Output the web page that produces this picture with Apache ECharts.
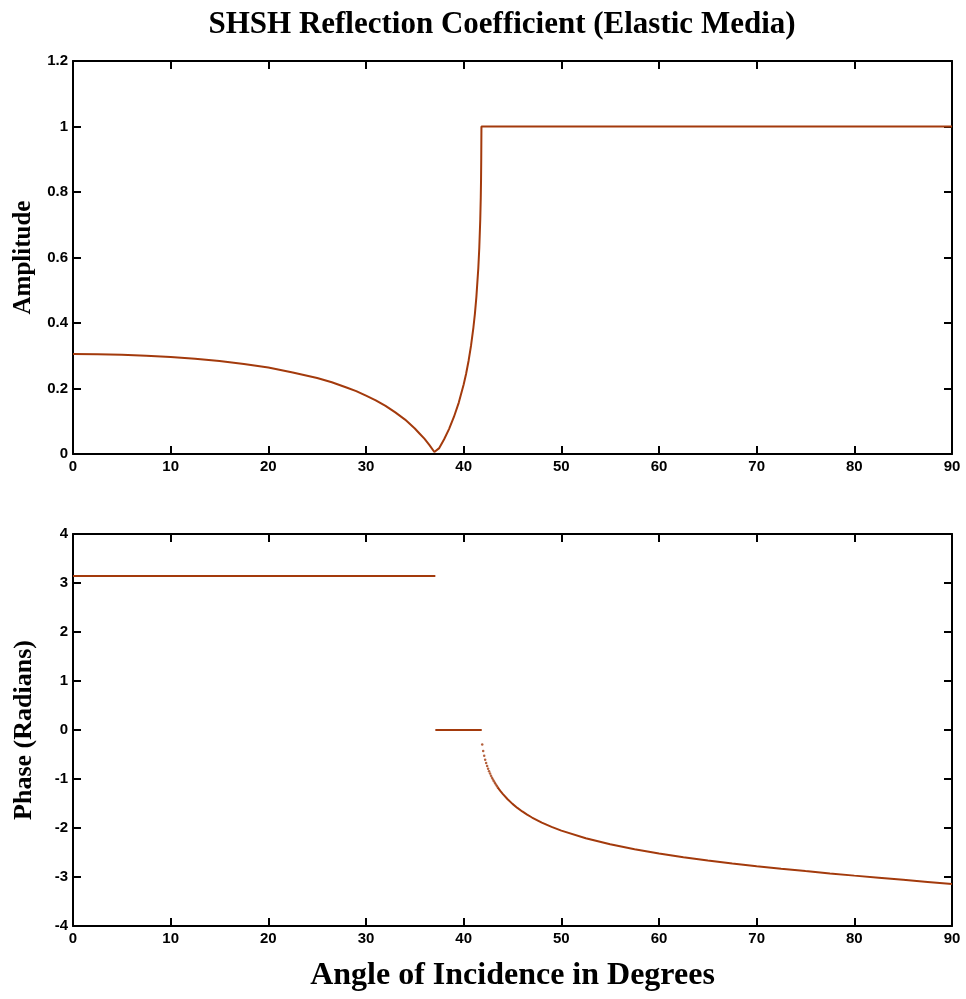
<!DOCTYPE html>
<html>
<head>
<meta charset="utf-8">
<script src="https://cdn.jsdelivr.net/npm/echarts@6/dist/echarts.min.js"></script>
<style>
html,body{margin:0;padding:0;background:#fff;}
#chart{width:966px;height:999px;}
</style>
</head>
<body>
<div id="chart"></div>
<script>
// ---- data ----
const xTicks = [0, 10, 20, 30, 40, 50, 60, 70, 80, 90];

const ampAngles = [0, 2.5, 5, 7.5, 10, 12.5, 15, 17.5, 20, 22.5, 25, 26.5, 28, 29, 30, 31, 32, 33, 34, 35, 35.5, 36, 36.5, 37, 37.1,
  37.5, 38, 38.5, 39, 39.5, 40, 40.25, 40.5, 40.75, 41, 41.15, 41.3, 41.5, 41.6, 41.7, 41.75, 41.78, 41.8, 41.82, 50, 60, 70, 80, 90];
const ampValues = [0.305, 0.3045, 0.303, 0.300, 0.296, 0.291, 0.284, 0.275, 0.264, 0.249, 0.232, 0.219, 0.203, 0.192, 0.178, 0.164, 0.147, 0.127, 0.105, 0.078, 0.062, 0.046, 0.027, 0.006, 0.0,
  0.018, 0.045, 0.076, 0.113, 0.157, 0.212, 0.245, 0.284, 0.330, 0.387, 0.428, 0.479, 0.568, 0.630, 0.717, 0.782, 0.840, 0.903, 1.0, 1.0, 1.0, 1.0, 1.0, 1.0];

const phaseHighAngles = [0, 37.1];
const phaseHighValues = [3.1416, 3.1416];

const phaseZeroAngles = [37.1, 41.85];
const phaseZeroValues = [0, 0];

const phaseDotAngles = [41.9, 42.0, 42.1, 42.2, 42.3, 42.4, 42.5, 42.6, 42.7, 42.8, 42.9, 43.0, 43.1, 43.2, 43.3, 43.4, 43.5];
const phaseDotValues = [-0.296, -0.428, -0.526, -0.607, -0.675, -0.737, -0.793, -0.843, -0.890, -0.933, -0.974, -1.011, -1.047, -1.082, -1.114, -1.145, -1.175];

const phaseTailAngles = [43.5, 43.75, 44, 44.5, 45, 45.5, 46, 46.5, 47, 48, 49, 50, 52.5, 55, 57.5, 60, 62.5, 65, 67.5, 70, 72.5, 75, 77.5, 80, 82.5, 85, 87.5, 90];
const phaseTailValues = [-1.175, -1.243, -1.305, -1.414, -1.508, -1.590, -1.662, -1.727, -1.786, -1.890, -1.977, -2.054, -2.210, -2.333, -2.434, -2.520, -2.595, -2.662, -2.723, -2.779, -2.831, -2.880, -2.927, -2.972, -3.015, -3.058, -3.100, -3.1416];

// ---- chart ----
const zip = (a, b) => a.map((v, i) => [v, b[i]]);
const lineColor = '#A33A0C';
const serif = 'Liberation Serif';
const sans = 'Liberation Sans';

function axisBase(extra) {
  return Object.assign({
    type: 'value',
    axisLine: { show: true, onZero: false, lineStyle: { color: '#000', width: 2 } },
    axisTick: { show: true, inside: true, length: 8, lineStyle: { color: '#000', width: 2 } },
    splitLine: { show: false },
    axisLabel: { color: '#000', fontFamily: sans, fontWeight: 'bold', fontSize: 15, margin: 5 }
  }, extra);
}

const chart = echarts.init(document.getElementById('chart'), null, { renderer: 'canvas' });
const option = {
  animation: false,
  backgroundColor: '#fff',
  title: {
    text: 'SHSH Reflection Coefficient (Elastic Media)',
    left: 497, top: 4, textAlign: 'center',
    textStyle: { fontFamily: serif, fontWeight: 'bold', fontSize: 31, color: '#000' }
  },
  grid: [
    { left: 73, top: 61, width: 879, height: 393 },
    { left: 73, top: 534, width: 879, height: 392 }
  ],
  xAxis: [
    axisBase({ gridIndex: 0, position: 'bottom', min: 0, max: 90, interval: 10 }),
    axisBase({ gridIndex: 0, position: 'top', min: 0, max: 90, interval: 10, axisLabel: { show: false } }),
    axisBase({ gridIndex: 1, position: 'bottom', min: 0, max: 90, interval: 10,
      name: 'Angle of Incidence in Degrees', nameLocation: 'middle', nameGap: 34,
      nameTextStyle: { fontFamily: serif, fontWeight: 'bold', fontSize: 32, color: '#000' } }),
    axisBase({ gridIndex: 1, position: 'top', min: 0, max: 90, interval: 10, axisLabel: { show: false } })
  ],
  yAxis: [
    axisBase({ gridIndex: 0, position: 'left', min: 0, max: 1.2, interval: 0.2,
      name: 'Amplitude', nameLocation: 'middle', nameGap: 36, nameRotate: 90,
      nameTextStyle: { fontFamily: serif, fontWeight: 'bold', fontSize: 25, color: '#000' } }),
    axisBase({ gridIndex: 0, position: 'right', min: 0, max: 1.2, interval: 0.2, axisLabel: { show: false } }),
    axisBase({ gridIndex: 1, position: 'left', min: -4, max: 4, interval: 1,
      name: 'Phase (Radians)', nameLocation: 'middle', nameGap: 36, nameRotate: 90,
      nameTextStyle: { fontFamily: serif, fontWeight: 'bold', fontSize: 26, color: '#000' } }),
    axisBase({ gridIndex: 1, position: 'right', min: -4, max: 4, interval: 1, axisLabel: { show: false } })
  ],
  series: [
    { type: 'line', xAxisIndex: 0, yAxisIndex: 0, data: zip(ampAngles, ampValues), showSymbol: false,
      lineStyle: { color: lineColor, width: 2 }, smooth: false },
    { type: 'line', xAxisIndex: 2, yAxisIndex: 2, data: zip(phaseHighAngles, phaseHighValues), showSymbol: false,
      lineStyle: { color: lineColor, width: 2 } },
    { type: 'line', xAxisIndex: 2, yAxisIndex: 2, data: zip(phaseZeroAngles, phaseZeroValues), showSymbol: false,
      lineStyle: { color: lineColor, width: 2 } },
    { type: 'scatter', xAxisIndex: 2, yAxisIndex: 2, data: zip(phaseDotAngles, phaseDotValues),
      symbolSize: 2.5, itemStyle: { color: lineColor } },
    { type: 'line', xAxisIndex: 2, yAxisIndex: 2, data: zip(phaseTailAngles, phaseTailValues), showSymbol: false,
      lineStyle: { color: lineColor, width: 2 } }
  ]
};
chart.setOption(option);
</script>
</body>
</html>
